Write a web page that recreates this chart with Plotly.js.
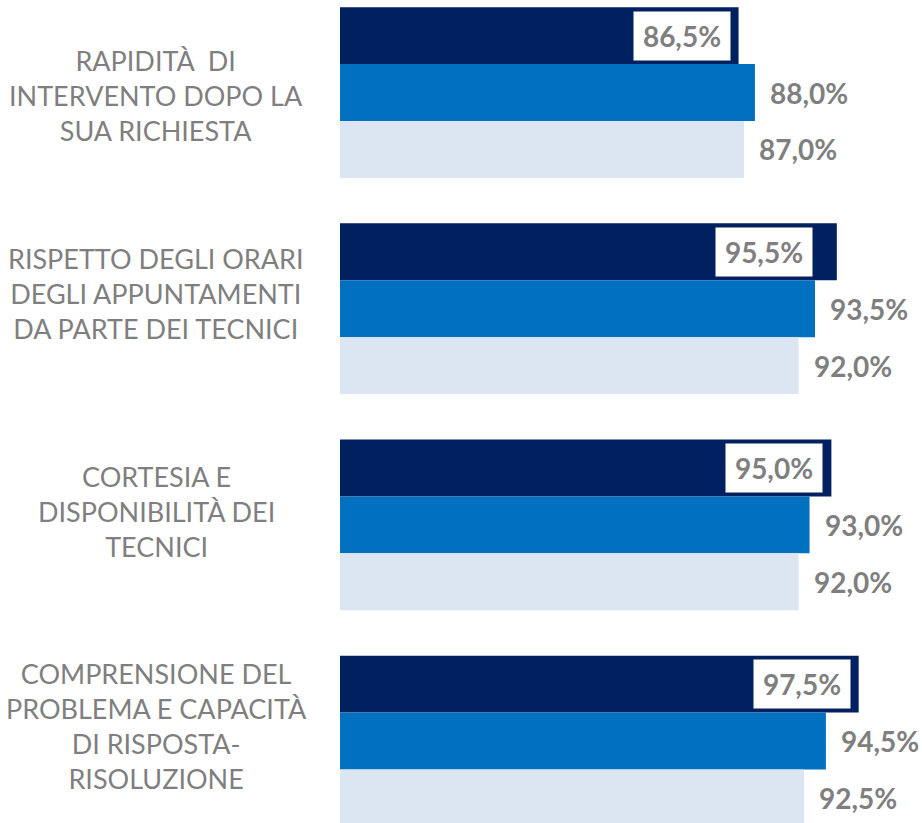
<!DOCTYPE html>
<html>
<head>
<meta charset="utf-8">
<script src="https://cdn.plot.ly/plotly-3.0.1.min.js"></script>
<style>html,body{margin:0;padding:0;background:#fff}#chart{width:922px;height:823px}</style>
</head>
<body>
<div id="chart"></div>
<script>
// ---- data ----
const categories = ["Rapidità", "Rispetto orari", "Cortesia", "Comprensione"];
const categoryLabels = [
  "RAPIDITÀ  DI<br>INTERVENTO DOPO LA<br>SUA RICHIESTA",
  "RISPETTO DEGLI ORARI<br>DEGLI APPUNTAMENTI<br>DA PARTE DEI TECNICI",
  "CORTESIA E<br>DISPONIBILITÀ DEI<br>TECNICI",
  "COMPRENSIONE DEL<br>PROBLEMA E CAPACITÀ<br>DI RISPOSTA-<br>RISOLUZIONE"
];
const seriesNames = ["Serie 1", "Serie 2", "Serie 3"];
const series1 = [86.5, 95.5, 95.0, 97.5];
const series2 = [88.0, 93.5, 93.0, 94.5];
const series3 = [87.0, 92.0, 92.0, 92.5];

// ---- style ----
const colors = ["#002060", "#0070C0", "#DCE6F2"];
const gray = "#7F7F7F";
const labelFont = "Lato, 'Open Sans', sans-serif";
const bargap = 0.21;
const labelYShift = [-3, 15, 13, 15];
const boxXShift = [-8, -24, -8, -8];

const allSeries = [series1, series2, series3];
const fmt = v => v.toFixed(1).replace('.', ',') + '%';

const traces = allSeries.map((vals, k) => ({
  type: 'bar',
  orientation: 'h',
  name: seriesNames[k],
  y: categories,
  x: vals,
  marker: {color: colors[k], line: {width: 0}},
  hoverinfo: 'x+name'
}));

const annotations = [];
const barW = (1 - bargap) / 3;
allSeries.forEach((vals, k) => {
  vals.forEach((v, i) => {
    const y = i + (k - 1) * barW;
    if (k === 0) {
      annotations.push({
        x: v, y: y, xref: 'x', yref: 'y',
        text: '<b>' + fmt(v) + '</b>',
        showarrow: false, xanchor: 'right', yanchor: 'middle',
        xshift: boxXShift[i],
        bgcolor: '#FFFFFF', borderpad: 4, width: 88, height: 40,
        font: {family: labelFont, size: 28, color: gray}
      });
    } else {
      annotations.push({
        x: v, y: y, xref: 'x', yref: 'y',
        text: '<b>' + fmt(v) + '</b>',
        showarrow: false, xanchor: 'left', yanchor: 'middle',
        xshift: 13,
        font: {family: labelFont, size: 28, color: gray}
      });
    }
  });
});
categoryLabels.forEach((t, i) => {
  annotations.push({
    x: 156 / 922, xref: 'paper', y: i, yref: 'y',
    text: t, showarrow: false, align: 'center',
    xanchor: 'center', yanchor: 'middle', yshift: labelYShift[i],
    font: {family: labelFont, size: 27, color: gray}
  });
});

const layout = {
  width: 922, height: 823,
  margin: {l: 0, r: 0, t: 0, b: 0},
  paper_bgcolor: '#FFFFFF', plot_bgcolor: '#FFFFFF',
  barmode: 'group', bargap: bargap, bargroupgap: 0,
  showlegend: false,
  xaxis: {domain: [340 / 922, 1], range: [50, 103.3], visible: false, fixedrange: true},
  yaxis: {range: [3.379, -0.428], visible: false, type: 'category', fixedrange: true},
  annotations: annotations
};

Plotly.newPlot('chart', traces, layout, {displayModeBar: false, staticPlot: true});
</script>
</body>
</html>
